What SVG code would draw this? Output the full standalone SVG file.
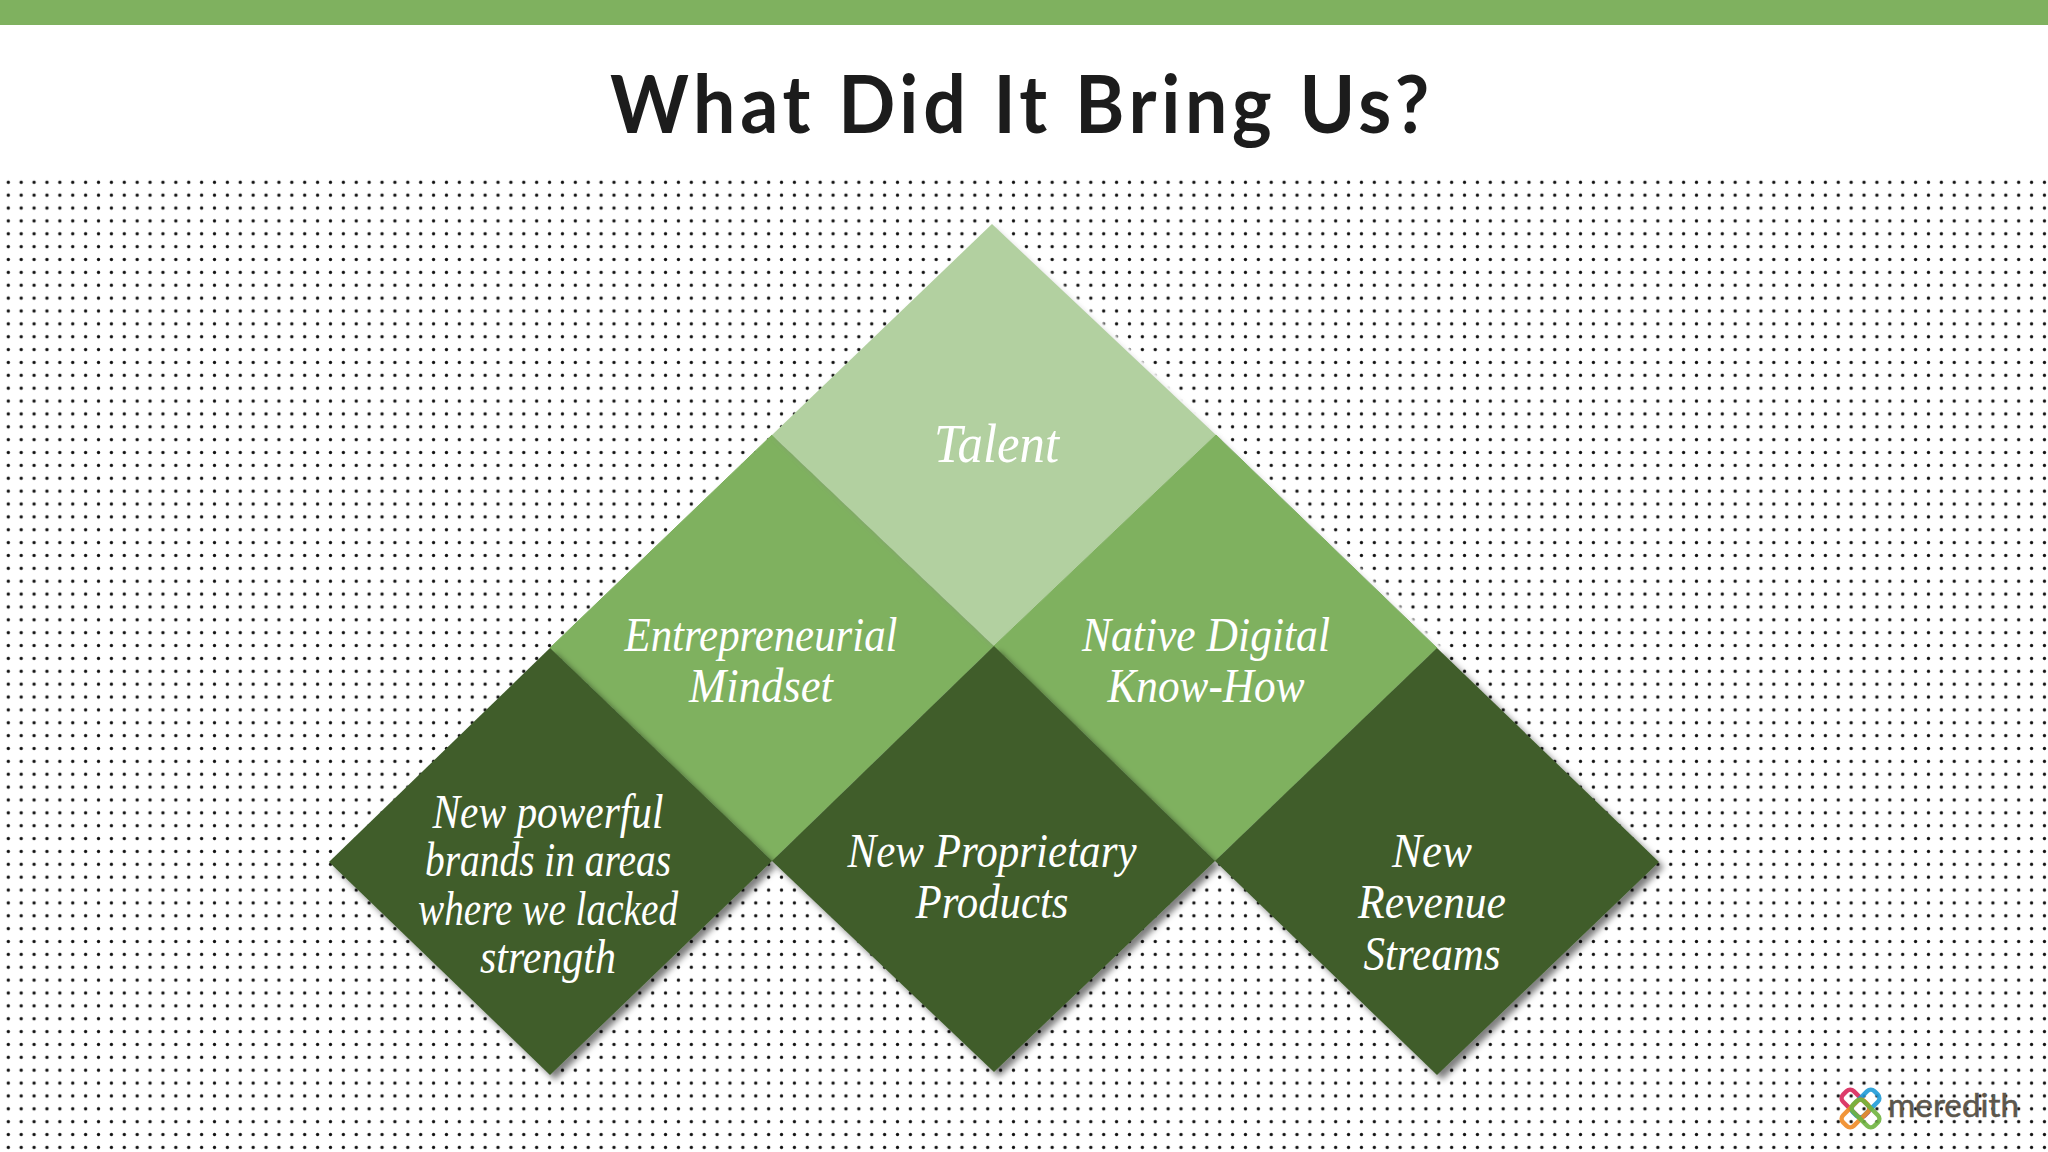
<svg xmlns="http://www.w3.org/2000/svg" width="2048" height="1152" viewBox="0 0 2048 1152">
<style>
.t{font-family:"Liberation Serif",serif;font-style:italic;font-size:48px;fill:#fff;text-anchor:middle}
.k{fill:none;stroke-width:4.5;opacity:.9}
.dark{fill:#3f5d2b;filter:url(#sh)}
.mid{fill:#7fb15f;stroke:#7fb15f;filter:url(#soft)}
</style>
<defs>
<pattern id="dots" patternUnits="userSpaceOnUse" x="1.86" y="175.87" width="12.887" height="12.868"><circle cx="6.44" cy="6.43" r="1.65" fill="#111"/></pattern>
<filter id="sh" x="-10%" y="-10%" width="125%" height="125%"><feDropShadow dx="5" dy="5" stdDeviation="3" flood-color="#000" flood-opacity="0.5"/></filter>
<filter id="soft" x="-10%" y="-10%" width="125%" height="125%">
<feGaussianBlur in="SourceAlpha" stdDeviation="1.5"/><feOffset dx="9" dy="3" result="a"/><feFlood flood-color="#fff"/><feComposite in2="a" operator="in" result="halo"/>
<feGaussianBlur in="SourceAlpha" stdDeviation="2.5"/><feOffset dx="3" dy="3" result="b"/><feFlood flood-color="#888" flood-opacity="0.4"/><feComposite in2="b" operator="in" result="shadow"/>
<feMerge><feMergeNode in="halo"/><feMergeNode in="shadow"/><feMergeNode in="SourceGraphic"/></feMerge>
</filter>
</defs>
<rect width="2048" height="1152" fill="#fff"/>
<rect id="band" width="2048" height="25" fill="#7fb15f"/>
<rect id="dotfield" y="176" width="2048" height="976" fill="url(#dots)"/>
<text id="title" x="1022" y="133" font-family="Lato,sans-serif" font-weight="700" font-size="80" letter-spacing="5" fill="#1c1c1c" text-anchor="middle" textLength="824" lengthAdjust="spacingAndGlyphs">What Did It Bring Us?</text>
<g id="connectors"/>
<g id="mindset"><path class="mid" d="M550 648L772 435L994 646L772 861Z"/><text class="t" x="761" y="651" textLength="273" lengthAdjust="spacingAndGlyphs">Entrepreneurial</text><text class="t" x="761" y="702" textLength="144" lengthAdjust="spacingAndGlyphs">Mindset</text></g>
<g id="talent"><path d="M772 435L992 224L1216 435L994 646Z" fill="#b2d0a0" filter="url(#soft)"/><text class="t" style="font-size:54px" x="996.5" y="462" textLength="125" lengthAdjust="spacingAndGlyphs">Talent</text></g>
<g id="native"><path class="mid" d="M994 646L1216 435L1437 648L1215 861Z"/><text class="t" x="1206" y="651" textLength="248" lengthAdjust="spacingAndGlyphs">Native Digital</text><text class="t" x="1206" y="702" textLength="197" lengthAdjust="spacingAndGlyphs">Know-How</text></g>
<g id="dark-left"><path class="dark" d="M329 862L550 648L772 861L550 1075Z"/><text class="t" x="548" y="828" textLength="231" lengthAdjust="spacingAndGlyphs">New powerful</text><text class="t" x="548" y="876" textLength="246" lengthAdjust="spacingAndGlyphs">brands in areas</text><text class="t" x="548" y="925" textLength="260" lengthAdjust="spacingAndGlyphs">where we lacked</text><text class="t" x="548" y="973" textLength="136" lengthAdjust="spacingAndGlyphs">strength</text></g>
<g id="dark-centre"><path class="dark" d="M772 861L994 646L1215 861L994 1072Z"/><text class="t" x="992" y="867" textLength="289" lengthAdjust="spacingAndGlyphs">New Proprietary</text><text class="t" x="992" y="918" textLength="153" lengthAdjust="spacingAndGlyphs">Products</text></g>
<g id="dark-right"><path class="dark" d="M1215 861L1437 648L1659 862L1437 1075Z"/><text class="t" x="1432" y="867" textLength="80" lengthAdjust="spacingAndGlyphs">New</text><text class="t" x="1432" y="918" textLength="148" lengthAdjust="spacingAndGlyphs">Revenue</text><text class="t" x="1432" y="970" textLength="137" lengthAdjust="spacingAndGlyphs">Streams</text></g>
<g id="logo">
<g transform="translate(1860.5 1108.5)">
<rect class="k" x="-15" y="-7.5" width="30" height="15" rx="5" stroke="#d8265a" transform="translate(-5 -5) rotate(45)"/>
<rect class="k" x="-15" y="-7.5" width="30" height="15" rx="5" stroke="#1f9bd7" transform="translate(5 -5) rotate(-45)"/>
<rect class="k" x="-15" y="-7.5" width="30" height="15" rx="5" stroke="#f08a24" transform="translate(-5 5) rotate(-45)"/>
<rect class="k" x="-15" y="-7.5" width="30" height="15" rx="5" stroke="#6fb43f" transform="translate(5 5) rotate(45)"/>
</g>
<text x="1888" y="1117" font-family="Lato,sans-serif" font-size="33" fill="#5c574d" stroke="#5c574d" stroke-width="0.6" textLength="131" lengthAdjust="spacingAndGlyphs">meredith</text>
</g>
</svg>
